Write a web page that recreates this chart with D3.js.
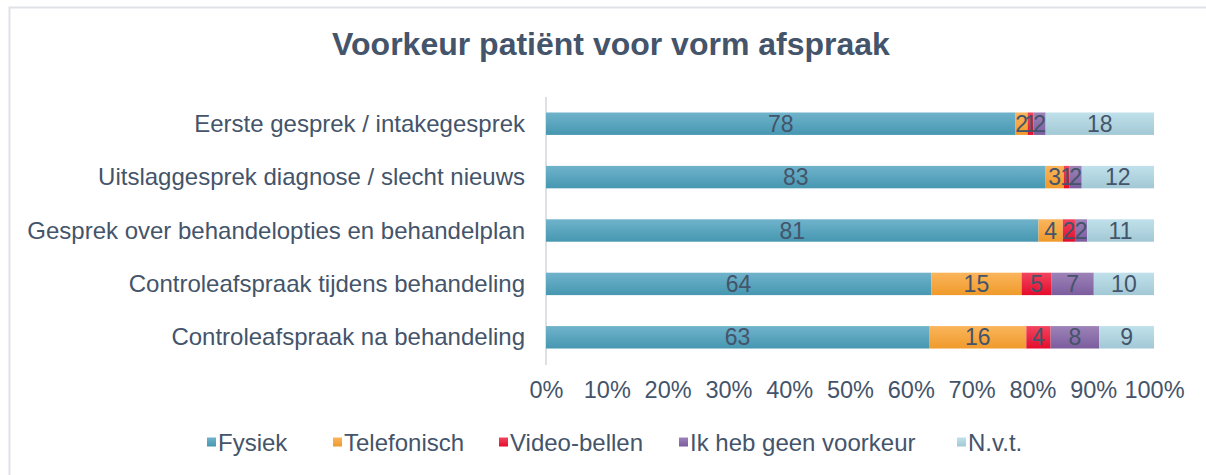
<!DOCTYPE html>
<html><head><meta charset="utf-8">
<script src="https://cdn.jsdelivr.net/npm/d3@7"></script>
<style>body{margin:0;background:#fff;} svg{display:block;font-family:"Liberation Sans",Arial,sans-serif;}</style>
</head><body>
<svg id="c" width="1206" height="475"></svg>
<script>
const categories = ["Eerste gesprek / intakegesprek","Uitslaggesprek diagnose / slecht nieuws","Gesprek over behandelopties en behandelplan","Controleafspraak tijdens behandeling","Controleafspraak na behandeling"];
const seriesNames = ["Fysiek","Telefonisch","Video-bellen","Ik heb geen voorkeur","N.v.t."];
const fysiek = [78,83,81,64,63];
const telefonisch = [2,3,4,15,16];
const videobellen = [1,1,2,5,4];
const geenVoorkeur = [2,2,2,7,8];
const nvt = [18,12,11,10,9];
const tickLabels = ["0%","10%","20%","30%","40%","50%","60%","70%","80%","90%","100%"];
const colorsTop = ["#70b3cb","#fbb55c","#f2455e","#9d83b8","#c0e1eb"];
const colorsBot = ["#4697b1","#ef9a2b","#e40c2d","#7b5d9e","#a2c8d5"];
const title = "Voorkeur patiënt voor vorm afspraak";

const seriesVals = [fysiek,telefonisch,videobellen,geenVoorkeur,nvt];
const svg = d3.select("#c");
const textColor = "#44546A";

// frame
svg.append("rect").attr("x",9.5).attr("y",7.5).attr("width",1206).attr("height",480)
  .attr("fill","none").attr("stroke","#dfe2e7").attr("stroke-width",2);

svg.append("text").attr("x",611).attr("y",55).attr("text-anchor","middle")
  .attr("font-size",32).attr("font-weight","bold").attr("fill",textColor).text(title);

const x = d3.scaleLinear().domain([0,1]).range([546,1154]);
const y = d3.scaleBand().domain(categories).range([97,364]).paddingInner(0.58).paddingOuter(0.29);

const defs = svg.append("defs");
seriesNames.forEach((s,i)=>{
  const g = defs.append("linearGradient").attr("id","g"+i).attr("x1",0).attr("x2",0).attr("y1",0).attr("y2",1);
  g.append("stop").attr("offset","0%").attr("stop-color",colorsTop[i]);
  g.append("stop").attr("offset","100%").attr("stop-color",colorsBot[i]);
});

// data table (100% stacked: normalised by row total)
const rows = categories.map((c,ci)=>{
  const vals = seriesVals.map(v=>v[ci]);
  const total = d3.sum(vals);
  let cum = 0;
  return vals.map((v,si)=>{ const r={cat:c,si,v,x0:cum/total,x1:(cum+v)/total}; cum+=v; return r; });
}).flat();

// axis line
svg.append("line").attr("x1",546).attr("x2",546).attr("y1",97).attr("y2",365)
  .attr("stroke","#dde1e6").attr("stroke-width",2);

svg.selectAll("rect.bar").data(rows).enter().append("rect").attr("class","bar")
  .attr("x",d=>x(d.x0)).attr("width",d=>x(d.x1)-x(d.x0))
  .attr("y",d=>y(d.cat)).attr("height",y.bandwidth())
  .attr("fill",d=>`url(#g${d.si})`);

svg.selectAll("text.lbl").data(rows).enter().append("text").attr("class","lbl")
  .attr("x",d=>(x(d.x0)+x(d.x1))/2).attr("y",d=>y(d.cat)+y.bandwidth()/2+8)
  .attr("text-anchor","middle").attr("font-size",23).attr("fill",textColor).text(d=>d.v);

// category labels
svg.selectAll("text.cat").data(categories).enter().append("text").attr("class","cat")
  .attr("x",525).attr("y",d=>y(d)+y.bandwidth()/2+8).attr("text-anchor","end")
  .attr("font-size",24).attr("fill",textColor).text(d=>d);

// x axis ticks
const xa = d3.axisBottom(x).tickValues(d3.range(0,1.01,0.1)).tickFormat((d,i)=>tickLabels[i]).tickSize(0);
const ga = svg.append("g").attr("transform","translate(0,378)").call(xa);
ga.select(".domain").remove();
ga.selectAll("text").attr("font-size",23.5).attr("fill",textColor).attr("font-family","Liberation Sans, Arial, sans-serif");

// legend
const legX = [207,333,499,679,957];
const lg = svg.selectAll("g.leg").data(seriesNames).enter().append("g").attr("class","leg")
  .attr("transform",(d,i)=>`translate(${legX[i]},442)`);
lg.append("rect").attr("x",0).attr("y",-4.5).attr("width",9).attr("height",9).attr("fill",(d,i)=>`url(#g${i})`);
lg.append("text").attr("x",11).attr("y",8.5).attr("font-size",24).attr("fill",textColor).text(d=>d);
</script>
</body></html>
